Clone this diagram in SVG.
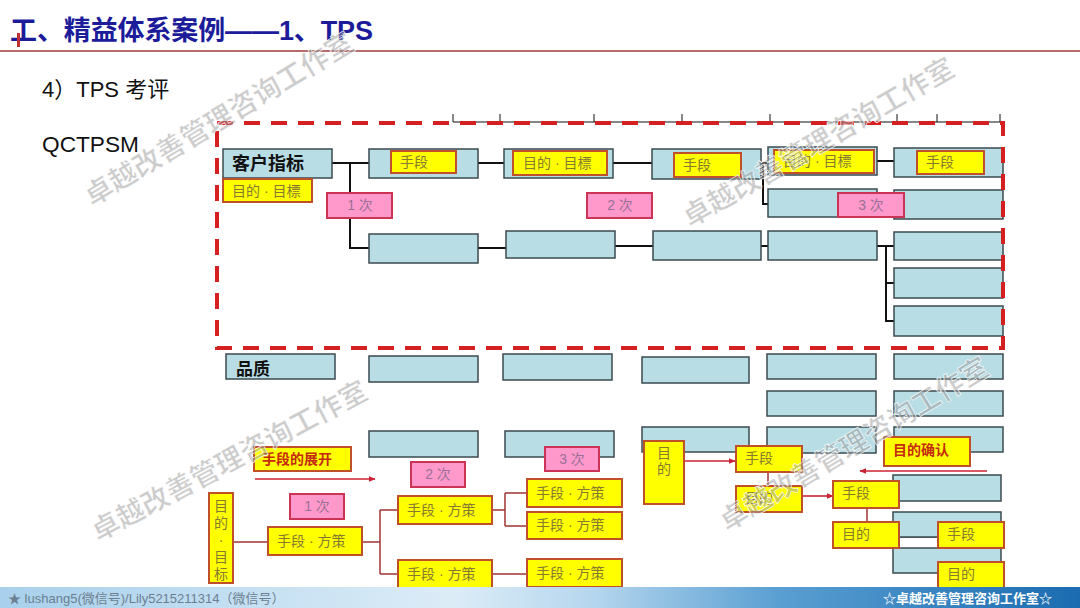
<svg xmlns="http://www.w3.org/2000/svg" width="1080" height="608" viewBox="0 0 1080 608">
<defs>
<linearGradient id="foot" x1="0" y1="0" x2="1" y2="0">
<stop offset="0" stop-color="#a8d0ec"/>
<stop offset="0.42" stop-color="#dcecf7"/>
<stop offset="0.55" stop-color="#b5d6ee"/>
<stop offset="0.72" stop-color="#5a9fd2"/>
<stop offset="1" stop-color="#1a6bb0"/>
</linearGradient>
<marker id="ar" viewBox="0 0 10 10" refX="9" refY="5" markerWidth="7" markerHeight="7" orient="auto" markerUnits="userSpaceOnUse">
<path d="M0,1 L10,5 L0,9 z" fill="#cc2233"/>
</marker>
</defs>
<style>
.b{fill:#b8dde5;stroke:#3b4a50;stroke-width:1.5}
.y{fill:#ffff00;stroke:#c0502a;stroke-width:2}
.p{fill:#ff99cc;stroke:#cc3355;stroke-width:2}
.t{font-family:"Liberation Sans","Noto Sans CJK SC",sans-serif}
.yt{font-family:"Liberation Sans","Noto Sans CJK SC",sans-serif;font-size:14px;fill:#857a30}
.pt{font-family:"Liberation Sans","Noto Sans CJK SC",sans-serif;font-size:14px;fill:#9a7095;text-anchor:middle}
.rt{font-family:"Liberation Sans","Noto Sans CJK SC",sans-serif;font-size:14px;fill:#c42a10;font-weight:bold}
.k{stroke:#111;stroke-width:2;fill:none}
.rl{stroke:#a03434;stroke-width:1.5;fill:none}
.ra{stroke:#cc2233;stroke-width:1.6;fill:none}
.wm{font-family:"Noto Sans CJK SC",sans-serif;font-size:28px;font-weight:bold;fill:#9a9a9a;fill-opacity:0.5;stroke:#ffffff;stroke-width:0.6}
</style>

<rect width="1080" height="608" fill="#ffffff"/>

<!-- header -->
<g id="header">
<text class="t" x="10" y="40" font-size="27" font-weight="bold" fill="#1c1c9a" textLength="363" lengthAdjust="spacing">工、精益体系案例——1、TPS</text>
<rect x="17" y="33" width="3" height="14" fill="#c03030"/>
<line x1="0" y1="51" x2="1080" y2="51" stroke="#9c3b3b" stroke-width="1.5"/>
<text class="t" x="42" y="97" font-size="22" fill="#111">4）TPS 考评</text>
<text class="t" x="42" y="152" font-size="22" fill="#111" textLength="97" lengthAdjust="spacingAndGlyphs">QCTPSM</text>
</g>

<!-- top cut-off header line -->
<g id="topline">
<line x1="453" y1="122" x2="1000" y2="122" stroke="#111" stroke-width="1.2"/>
<path d="M453,114V122 M500,114V122 M594,114V122 M682,114V122 M770,114V122 M897,114V122 M937,114V122 M1000,114V122" stroke="#111" stroke-width="1"/>
</g>

<!-- connectors -->
<g id="connectors">
<path class="k" d="M332,163H369 M350,163V248H369 M478,163H504 M613,163H652 M761,163H768 M763,163V204H768 M877,161H894"/>
<path class="k" d="M478,248H506 M615,246H653 M761,246H768 M877,246H894 M886,246V321H894 M886,283H894"/>
<path class="rl" d="M233,542H268 M362,542H380 M380,510V574 M380,510H398 M380,574H398 M492,510H505 M505,493V526 M505,493H527 M505,526H527 M492,574H527"/>
<path class="rl" d="M768,472V486 M867,508V522 M971,548V562"/>
<line x1="899" y1="537" x2="938" y2="537" stroke="#3b4a50" stroke-width="1.5"/>
<line class="ra" x1="255" y1="479" x2="375" y2="479" marker-end="url(#ar)"/>
<line class="ra" x1="684" y1="461" x2="735" y2="461" marker-end="url(#ar)"/>
<line class="ra" x1="802" y1="496" x2="833" y2="496" marker-end="url(#ar)"/>
<line class="ra" x1="899" y1="532" x2="932" y2="532" marker-end="url(#ar)"/>
<line class="ra" x1="987" y1="471" x2="860" y2="471" marker-end="url(#ar)"/>
</g>

<!-- top block rows -->
<g id="n-kehu"><rect class="b" x="223" y="149" width="109" height="29"/><text class="t" x="232" y="170" font-size="18" font-weight="bold" fill="#111">客户指标</text></g>
<g id="n-kehu-goal"><rect class="y" x="223" y="179" width="89" height="23"/><text class="yt" x="232" y="196">目的 · 目標</text></g>
<g id="n-r1c2"><rect class="b" x="369" y="149" width="109" height="29"/><rect class="y" x="391" y="151" width="65" height="22"/><text class="yt" x="400" y="167">手段</text></g>
<g id="n-r1c3"><rect class="b" x="504" y="149" width="109" height="29"/><rect class="y" x="513" y="151" width="94" height="24"/><text class="yt" x="523" y="168">目的 · 目標</text></g>
<g id="n-r1c4"><rect class="b" x="652" y="149" width="109" height="30"/><rect class="y" x="674" y="153" width="67" height="24"/><text class="yt" x="683" y="170">手段</text></g>
<g id="n-r1c5"><rect class="b" x="768" y="147" width="109" height="28"/><rect class="y" x="774" y="150" width="100" height="23"/><text class="yt" x="783" y="166">目的 · 目標</text></g>
<g id="n-r1c6"><rect class="b" x="894" y="148" width="109" height="29"/><rect class="y" x="917" y="151" width="67" height="23"/><text class="yt" x="926" y="167">手段</text></g>

<g id="n-r2c5"><rect class="b" x="768" y="189" width="109" height="28"/></g>
<g id="n-r2c6"><rect class="b" x="894" y="190" width="109" height="29"/></g>
<g id="n-p1"><rect class="p" x="327" y="193" width="65" height="25"/><text class="pt" x="360" y="210">1 次</text></g>
<g id="n-p2"><rect class="p" x="587" y="193" width="65" height="25"/><text class="pt" x="620" y="210">2 次</text></g>
<g id="n-p3"><rect class="p" x="838" y="193" width="66" height="24"/><text class="pt" x="871" y="210">3 次</text></g>

<g id="n-r3c2"><rect class="b" x="369" y="234" width="109" height="29"/></g>
<g id="n-r3c3"><rect class="b" x="506" y="231" width="109" height="27"/></g>
<g id="n-r3c4"><rect class="b" x="653" y="231" width="108" height="29"/></g>
<g id="n-r3c5"><rect class="b" x="768" y="231" width="109" height="29"/></g>
<g id="n-r3c6"><rect class="b" x="894" y="232" width="109" height="28"/></g>
<g id="n-r4c6"><rect class="b" x="894" y="268" width="109" height="30"/></g>
<g id="n-r5c6"><rect class="b" x="894" y="306" width="109" height="30"/></g>

<!-- dashed frame -->
<g id="frame">
<rect x="217" y="123" width="786" height="225" fill="none" stroke="#d42020" stroke-width="4" stroke-dasharray="16,11"/>
</g>

<!-- quality rows -->
<g id="n-pinzhi"><rect class="b" x="226" y="354" width="109" height="25"/><text class="t" x="236" y="375" font-size="17" font-weight="bold" fill="#111">品质</text></g>
<g id="n-q1"><rect class="b" x="369" y="356" width="109" height="26"/></g>
<g id="n-q2"><rect class="b" x="503" y="354" width="109" height="26"/></g>
<g id="n-q3"><rect class="b" x="642" y="357" width="107" height="26"/></g>
<g id="n-q4"><rect class="b" x="767" y="354" width="109" height="25"/></g>
<g id="n-q5"><rect class="b" x="894" y="354" width="109" height="25"/></g>
<g id="n-q6"><rect class="b" x="767" y="391" width="109" height="25"/></g>
<g id="n-q7"><rect class="b" x="894" y="391" width="109" height="25"/></g>
<g id="n-q8"><rect class="b" x="369" y="431" width="109" height="26"/></g>
<g id="n-q9"><rect class="b" x="505" y="431" width="109" height="26"/></g>
<g id="n-q10"><rect class="b" x="642" y="427" width="107" height="25"/></g>
<g id="n-q11"><rect class="b" x="767" y="427" width="109" height="26"/></g>
<g id="n-q12"><rect class="b" x="894" y="427" width="109" height="25"/></g>
<g id="n-q13"><rect class="b" x="893" y="475" width="108" height="26"/></g>
<g id="n-q14"><rect class="b" x="893" y="512" width="108" height="25"/></g>
<g id="n-q15"><rect class="b" x="893" y="548" width="108" height="25"/></g>

<!-- bottom left flow -->
<g id="n-zhankai"><rect class="y" x="254" y="447" width="97" height="24"/><text class="rt" x="262" y="464">手段的展开</text></g>
<g id="n-b2"><rect class="p" x="411" y="462" width="54" height="25"/><text class="pt" x="438" y="479">2 次</text></g>
<g id="n-b3"><rect class="p" x="545" y="447" width="54" height="24"/><text class="pt" x="572" y="464">3 次</text></g>
<g id="n-b1"><rect class="p" x="290" y="494" width="54" height="25"/><text class="pt" x="317" y="511">1 次</text></g>
<g id="n-goal-v"><rect class="y" x="209" y="493" width="24" height="90"/>
<text class="yt" x="221" text-anchor="middle"><tspan x="221" y="511">目</tspan><tspan x="221" y="528">的</tspan><tspan x="221" y="545">·</tspan><tspan x="221" y="562">目</tspan><tspan x="221" y="579">标</tspan></text></g>
<g id="n-m1"><rect class="y" x="268" y="527" width="94" height="28"/><text class="yt" x="277" y="546">手段 · 方策</text></g>
<g id="n-m2"><rect class="y" x="398" y="496" width="94" height="28"/><text class="yt" x="407" y="515">手段 · 方策</text></g>
<g id="n-m3"><rect class="y" x="398" y="560" width="94" height="28"/><text class="yt" x="407" y="579">手段 · 方策</text></g>
<g id="n-m4"><rect class="y" x="527" y="479" width="95" height="28"/><text class="yt" x="536" y="498">手段 · 方策</text></g>
<g id="n-m5"><rect class="y" x="527" y="512" width="95" height="27"/><text class="yt" x="536" y="530">手段 · 方策</text></g>
<g id="n-m6"><rect class="y" x="527" y="559" width="95" height="28"/><text class="yt" x="536" y="578">手段 · 方策</text></g>

<!-- bottom right flow -->
<g id="n-mud-v"><rect class="y" x="644" y="441" width="40" height="63"/><text class="yt" x="657"><tspan x="657" y="458">目</tspan><tspan x="657" y="474">的</tspan></text></g>
<g id="n-s1"><rect class="y" x="736" y="446" width="66" height="26"/><text class="yt" x="745" y="463">手段</text></g>
<g id="n-g1"><rect class="y" x="736" y="486" width="66" height="26"/><text class="yt" x="745" y="503">目的</text></g>
<g id="n-s2"><rect class="y" x="833" y="481" width="66" height="27"/><text class="yt" x="842" y="498">手段</text></g>
<g id="n-g2"><rect class="y" x="833" y="522" width="66" height="26"/><text class="yt" x="842" y="539">目的</text></g>
<g id="n-s3"><rect class="y" x="938" y="522" width="66" height="26"/><text class="yt" x="947" y="539">手段</text></g>
<g id="n-g3"><rect class="y" x="938" y="562" width="66" height="26"/><text class="yt" x="947" y="579">目的</text></g>
<g id="n-confirm"><rect class="y" x="884" y="437" width="86" height="29"/><text class="rt" x="893" y="455" font-weight="normal">目的确认</text></g>

<!-- footer -->
<g id="footer">
<rect x="0" y="587" width="1080" height="21" fill="url(#foot)"/>
<text class="t" x="8" y="603" font-size="13" fill="#6b7f90">★ lushang5(微信号)/Lily5215211314（微信号）</text>
<text class="t" x="883" y="603" font-size="13" font-weight="bold" fill="#ffffff">☆卓越改善管理咨询工作室☆</text>
</g>

<!-- watermarks -->
<g id="watermarks">
<text class="wm" transform="translate(92,207) rotate(-31)">卓越改善管理咨询工作室</text>
<text class="wm" transform="translate(690,228) rotate(-30)">卓越改善管理咨询工作室</text>
<text class="wm" transform="translate(98,542) rotate(-28)">卓越改善管理咨询工作室</text>
<text class="wm" transform="translate(727,532) rotate(-31)">卓越改善管理咨询工作室</text>
</g>
</svg>
